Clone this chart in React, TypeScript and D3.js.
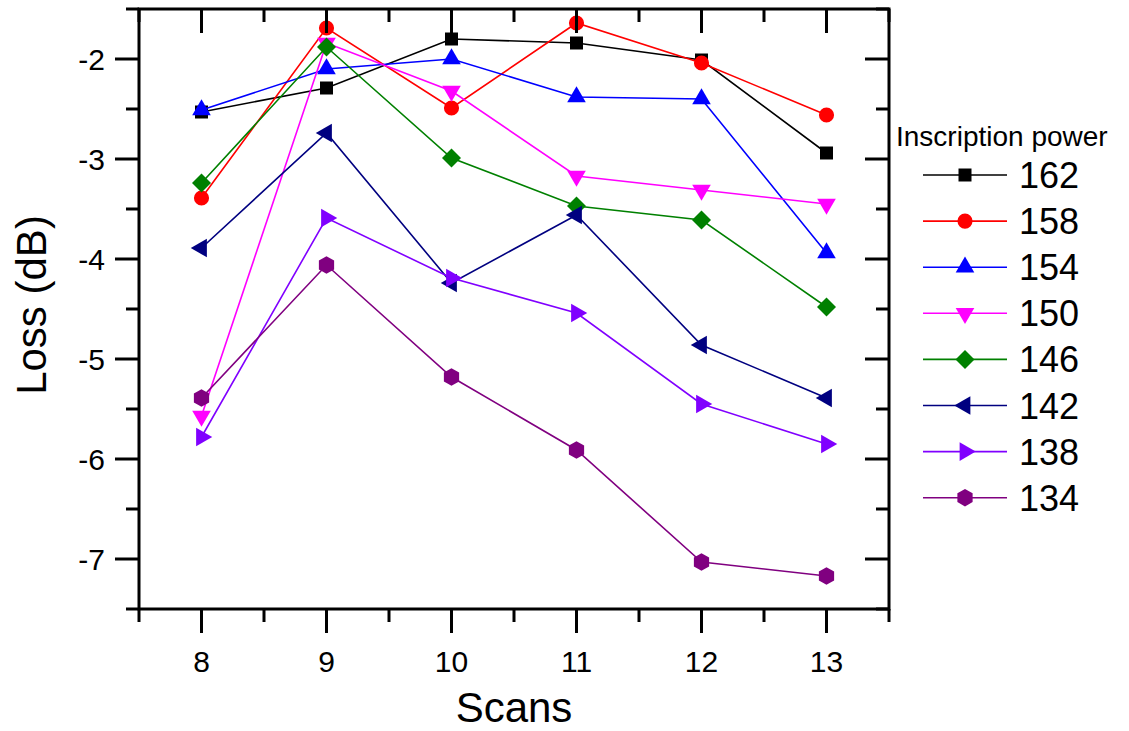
import React from 'react'
import * as d3 from 'd3'

// scans (x) and loss values (dB) per inscription power
const scans = [8, 9, 10, 11, 12, 13]
const powers = ['162', '158', '154', '150', '146', '142', '138', '134']
const loss162 = [-2.53, -2.29, -1.80, -1.84, -2.01, -2.94]
const loss158 = [-3.39, -1.69, -2.49, -1.64, -2.04, -2.56]
const loss154 = [-2.51, -2.10, -2.00, -2.38, -2.40, -3.94]
const loss150 = [-5.57, -1.84, -2.32, -3.17, -3.31, -3.45]
const loss146 = [-3.24, -1.88, -2.99, -3.47, -3.61, -4.48]
const loss142 = [-3.89, -2.74, -4.24, -3.56, -4.86, -5.39]
const loss138 = [-5.78, -3.59, -4.19, -4.54, -5.45, -5.85]
const loss134 = [-5.39, -4.06, -5.18, -5.91, -7.03, -7.17]
const xTicks = [8, 9, 10, 11, 12, 13]
const yTicks = [-2, -3, -4, -5, -6, -7]

const COLORS = ['#000000', '#ff0000', '#0000ff', '#ff00ff', '#008000', '#000080', '#8000ff', '#800080']
const SHAPES = ['square', 'circle', 'up', 'down', 'diamond', 'left', 'right', 'hex']
const FONT = '"Liberation Sans", Arial, Helvetica, sans-serif'

const W = 1129
const H = 731
const X0 = 139, X1 = 889, Y0 = 9, Y1 = 609

function markerPath(shape: string) {
  if (shape === 'square') return d3.symbol(d3.symbolSquare, 169)()
  if (shape === 'circle') return d3.symbol(d3.symbolCircle, 180)()
  if (shape === 'diamond') return 'M0,-9.5L9.5,0L0,9.5L-9.5,0Z'
  if (shape === 'hex') {
    const r = 8.8
    const pts = d3.range(6).map(i => {
      const a = (Math.PI / 3) * i - Math.PI / 2
      return [r * Math.cos(a), r * Math.sin(a)]
    })
    return 'M' + pts.map(p => p.join(',')).join('L') + 'Z'
  }
  // triangles: base shape points up, rotated later
  return d3.symbol(d3.symbolTriangle, 150)()
}

function rotation(shape: string) {
  if (shape === 'down') return 180
  if (shape === 'left') return -90
  if (shape === 'right') return 90
  return 0
}

function Marker({ x, y, shape, color }: { x: number; y: number; shape: string; color: string }) {
  return (
    <path
      d={markerPath(shape) || ''}
      transform={`translate(${x},${y}) rotate(${rotation(shape)})`}
      fill={color}
    />
  )
}

export default function App() {
  const series = [loss162, loss158, loss154, loss150, loss146, loss142, loss138, loss134]
  const x = d3.scaleLinear().domain([7.5, 13.5]).range([X0, X1])
  const y = d3.scaleLinear().domain([-7.5, -1.5]).range([Y1, Y0])
  const line = d3.line<number>().x((_, i) => x(scans[i])).y(d => y(d))

  const xMinor = d3.range(7.5, 13.6, 1)
  const yMinor = d3.range(-7.5, -1.4, 1)

  return (
    <svg width={W} height={H} style={{ position: 'absolute', left: 0, top: 0, background: '#fff' }}
      fontFamily={FONT}>
      {/* series: line then symbols, drawn in legend order */}
      {series.map((vals, si) => (
        <g key={powers[si]}>
          <path d={line(vals) || ''} fill="none" stroke={COLORS[si]} strokeWidth={1.6} />
          {vals.map((v, i) => (
            <Marker key={i} x={x(scans[i])} y={y(v)} shape={SHAPES[si]} color={COLORS[si]} />
          ))}
        </g>
      ))}

      {/* frame */}
      <rect x={X0} y={Y0} width={X1 - X0} height={Y1 - Y0} fill="none" stroke="#000" strokeWidth={3} />

      {/* x ticks: bottom outward, top inward */}
      {xTicks.map(t => (
        <g key={'xt' + t}>
          <line x1={x(t)} x2={x(t)} y1={Y1} y2={Y1 + 24} stroke="#000" strokeWidth={3} />
          <line x1={x(t)} x2={x(t)} y1={Y0} y2={Y0 + 24} stroke="#000" strokeWidth={3} />
          <text x={x(t)} y={672} fontSize={30} textAnchor="middle">{t}</text>
        </g>
      ))}
      {xMinor.map(t => (
        <g key={'xm' + t}>
          <line x1={x(t)} x2={x(t)} y1={Y1} y2={Y1 + 13} stroke="#000" strokeWidth={3} />
          <line x1={x(t)} x2={x(t)} y1={Y0} y2={Y0 + 13} stroke="#000" strokeWidth={3} />
        </g>
      ))}

      {/* y ticks: left outward, right inward */}
      {yTicks.map(t => (
        <g key={'yt' + t}>
          <line x1={X0 - 24} x2={X0} y1={y(t)} y2={y(t)} stroke="#000" strokeWidth={3} />
          <line x1={X1 - 24} x2={X1} y1={y(t)} y2={y(t)} stroke="#000" strokeWidth={3} />
          <text x={105} y={y(t)} dy="0.36em" fontSize={30} textAnchor="end">{t}</text>
        </g>
      ))}
      {yMinor.map(t => (
        <g key={'ym' + t}>
          <line x1={X0 - 13} x2={X0} y1={y(t)} y2={y(t)} stroke="#000" strokeWidth={3} />
          <line x1={X1 - 13} x2={X1} y1={y(t)} y2={y(t)} stroke="#000" strokeWidth={3} />
        </g>
      ))}

      {/* axis titles */}
      <text x={(X0 + X1) / 2} y={722} fontSize={42} textAnchor="middle">Scans</text>
      <text transform={`translate(46,${(Y0 + Y1) / 2 - 4}) rotate(-90)`} fontSize={42} textAnchor="middle">Loss (dB)</text>

      {/* legend */}
      <text x={896} y={146} fontSize={28}>Inscription power</text>
      {powers.map((p, i) => {
        const ly = 175 + i * 46.1
        return (
          <g key={'lg' + p}>
            <line x1={923} x2={1007} y1={ly} y2={ly} stroke={COLORS[i]} strokeWidth={1.6} />
            <Marker x={965} y={ly} shape={SHAPES[i]} color={COLORS[i]} />
            <text x={1019} y={ly + 13} fontSize={36}>{p}</text>
          </g>
        )
      })}
    </svg>
  )
}
